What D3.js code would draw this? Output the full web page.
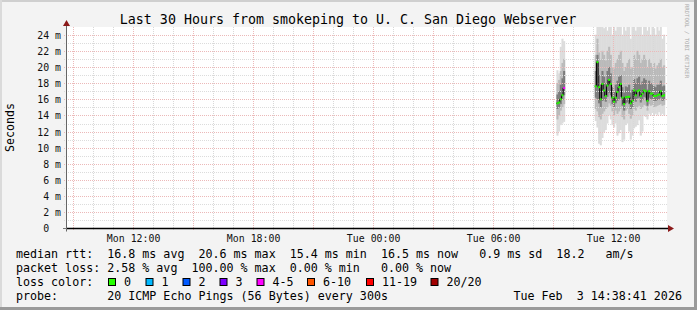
<!DOCTYPE html>
<html><head><meta charset="utf-8">
<script src="https://cdn.jsdelivr.net/npm/d3@7"></script>
<style>html,body{margin:0;padding:0;background:#f3f3f3}svg{display:block}text{white-space:pre}</style>
</head><body><svg id="c" width="697" height="310"></svg>
<script>
const title = "Last 30 Hours from smokeping to U. C. San Diego Webserver";
const yAxisTitle = "Seconds";
const watermark = "RRDTOOL / TOBI OETIKER";
const rangeStart = "2026-02-02 08:38:41";
const rangeEnd = "2026-02-03 14:38:41";
const xTickTimes = ["2026-02-02 12:00:00","2026-02-02 18:00:00","2026-02-03 00:00:00","2026-02-03 06:00:00","2026-02-03 12:00:00"];
const xTickLabels = ["Mon 12:00","Mon 18:00","Tue 00:00","Tue 06:00","Tue 12:00"];
const yTickValues = [0,2,4,6,8,10,12,14,16,18,20,22,24];
const yTickLabels = ["0  "," 2 m"," 4 m"," 6 m"," 8 m","10 m","12 m","14 m","16 m","18 m","20 m","22 m","24 m"];

const times = [
 "2026-02-03 09:10","2026-02-03 09:15","2026-02-03 09:20","2026-02-03 09:25","2026-02-03 09:30",
 "2026-02-03 11:05","2026-02-03 11:10","2026-02-03 11:15","2026-02-03 11:20","2026-02-03 11:25","2026-02-03 11:30",
 "2026-02-03 11:35","2026-02-03 11:40","2026-02-03 11:45","2026-02-03 11:50","2026-02-03 11:55",
 "2026-02-03 12:00","2026-02-03 12:05","2026-02-03 12:10","2026-02-03 12:15","2026-02-03 12:20","2026-02-03 12:25",
 "2026-02-03 12:30","2026-02-03 12:35","2026-02-03 12:40","2026-02-03 12:45","2026-02-03 12:50","2026-02-03 12:55",
 "2026-02-03 13:00","2026-02-03 13:05","2026-02-03 13:10","2026-02-03 13:15","2026-02-03 13:20","2026-02-03 13:25",
 "2026-02-03 13:30","2026-02-03 13:35","2026-02-03 13:40","2026-02-03 13:45","2026-02-03 13:50","2026-02-03 13:55",
 "2026-02-03 14:00","2026-02-03 14:05","2026-02-03 14:10","2026-02-03 14:15","2026-02-03 14:20","2026-02-03 14:25","2026-02-03 14:30"];
const median = [15.5,15.6,16.0,16.5,17.4,
 17.6,20.6,17.5,16.0,17.9,17.1,16.4,17.7,18.4,17.9,16.2,15.7,16.2,16.9,17.5,17.9,16.2,15.4,16.25,16.3,16.3,15.5,15.8,
 17.1,16.5,17.0,17.1,16.4,16.7,17.1,17.0,15.8,17.0,16.7,16.7,16.4,16.4,16.5,16.6,17.0,16.4,16.5];
const lossCount = [0,0,0,0,4,
 0,0,0,0,0,0,0,0,0,0,0,0,0,0,0,0,0,0,0,0,0,0,0,0,0,0,0,0,0,0,0,0,0,0,0,0,0,0,0,0,0,0];
const smokeMin = [11.5,12.0,12.8,13.0,13.2,
 13.3,12.5,10.5,10.3,11.2,11.9,12.2,13.0,14.0,13.5,12.8,12.5,13.0,11.5,11.8,12.2,10.7,11.0,12.8,13.0,12.0,11.0,11.5,
 12.4,12.6,12.8,13.4,11.5,12.0,14.0,13.8,13.5,14.2,14.0,14.3,14.0,14.2,14.0,14.4,14.0,14.2,14.0];
const smokeLo2 = [13.5,14.0,14.6,15.0,15.4,
 14.8,14.5,13.8,13.5,14.2,14.5,14.8,15.0,15.5,15.2,14.5,14.0,14.6,14.2,14.5,14.8,13.8,13.5,14.6,14.8,14.2,13.6,14.0,
 14.8,14.6,15.0,15.2,14.8,15.0,15.3,15.2,14.6,15.4,15.2,15.3,15.0,15.1,15.2,15.3,15.4,15.2,15.3];
const smokeLo3 = [14.8,15.0,15.4,15.9,16.5,
 16.2,16.0,15.5,15.0,15.8,15.9,15.7,16.3,16.8,16.5,15.4,15.0,15.5,15.8,16.0,16.3,15.2,14.6,15.5,15.6,15.4,14.8,15.0,
 16.0,15.7,16.1,16.2,15.6,15.9,16.3,16.2,15.2,16.2,16.0,16.0,15.8,15.8,15.9,16.0,16.2,15.8,15.9];
const smokeHi3 = [16.6,17.0,17.8,18.6,19.5,
 19.5,21.5,19.0,17.8,19.5,18.8,18.0,19.5,20.0,19.2,17.5,17.0,17.8,18.3,18.8,19.0,17.5,16.8,17.6,17.5,17.8,16.8,17.2,
 18.5,18.0,18.6,18.8,17.8,18.2,18.6,18.4,17.2,18.3,18.0,17.8,17.6,17.5,17.8,17.8,18.3,17.6,17.7];
const smokeHi2 = [18.0,18.4,19.5,20.5,21.0,
 21.5,23.5,21.8,21.0,22.0,21.5,20.8,22.0,22.5,21.5,20.0,19.8,20.5,21.0,21.5,22.0,20.5,19.5,20.0,20.5,21.0,19.8,20.0,
 21.5,21.0,22.0,21.5,20.5,21.0,21.5,21.0,20.0,21.0,20.5,20.0,20.5,19.8,20.2,20.5,21.0,20.0,20.2];
const smokeMax = [19.6,19.2,22.5,23.5,23.2,
 24.0,25.5,25.5,25.0,25.5,24.8,25.5,24.5,25.5,25.0,24.0,25.5,24.5,25.5,25.0,25.5,24.0,25.5,24.5,25.5,25.0,23.5,25.5,
 25.5,24.5,25.5,25.0,25.5,24.0,25.5,25.0,24.5,25.5,24.0,25.5,24.8,24.0,25.5,24.5,25.0,23.5,24.0];

const lossClasses = ["0","1","2","3","4-5","6-10","11-19","20/20"];
const lossColors = ["#26ff00","#00b8ff","#0059ff","#7e00ff","#ff00ff","#ff5500","#ff0000","#a10000"];
const lossBoxX = [108,145.5,182.5,219.5,256.5,307,366,430.5];
const legendLines = [
 "median rtt:  16.8 ms avg  20.6 ms max  15.4 ms min  16.5 ms now   0.9 ms sd  18.2   am/s",
 "packet loss: 2.58 % avg  100.00 % max  0.00 % min   0.00 % now",
 "loss color:",
 "probe:       20 ICMP Echo Pings (56 Bytes) every 300s"];
const stampText = "Tue Feb  3 14:38:41 2026";

const W = 697, H = 310;
const L = 66, R = 666, T = 27, B = 228.5;
const mono = "'DejaVu Sans Mono', 'Liberation Mono', monospace";
const svg = d3.select("#c");
const parse = d3.timeParse("%Y-%m-%d %H:%M");
const parseS = d3.timeParse("%Y-%m-%d %H:%M:%S");
const x = d3.scaleTime().domain([parseS(rangeStart), parseS(rangeEnd)]).range([L, R]);
const y = d3.scaleLinear().domain([0, 24.95]).range([B, T]);
const STEP = 5 * 60 * 1000;

// background & border
svg.append("rect").attr("width", W).attr("height", H).attr("fill", "#f3f3f3");
svg.append("rect").attr("x",0).attr("y",0).attr("width",W).attr("height",2).attr("fill","#cfcfcf");
svg.append("rect").attr("x",0).attr("y",0).attr("width",2).attr("height",H).attr("fill","#dadada");
svg.append("rect").attr("x",W-3).attr("y",0).attr("width",3).attr("height",H).attr("fill","#9a9a9a");
svg.append("rect").attr("x",0).attr("y",H-3).attr("width",W).attr("height",3).attr("fill","#9a9a9a");

// plot area
svg.append("rect").attr("x", L).attr("y", T).attr("width", R - L + 1).attr("height", B - T).attr("fill", "#ffffff");
svg.append("clipPath").attr("id","clip").append("rect").attr("x", L).attr("y", T).attr("width", R - L + 1).attr("height", B - T);

const data = times.map((t, i) => ({
  t: parse(t), med: median[i], loss: lossCount[i],
  bands: [[smokeMin[i], smokeMax[i]], [smokeLo2[i], smokeHi2[i]], [smokeLo3[i], smokeHi3[i]]]
}));
const bandColors = ["#dcdcdc", "#bababa", "#7c7c7c"];
const smoke = svg.append("g").attr("clip-path", "url(#clip)");
[0,1,2].forEach(b => {
  smoke.selectAll(null).data(data).enter().append("rect")
    .attr("x", d => x(d.t))
    .attr("width", d => x(new Date(+d.t + STEP)) - x(d.t) + 0.4)
    .attr("y", d => y(d.bands[b][1]))
    .attr("height", d => y(d.bands[b][0]) - y(d.bands[b][1]))
    .attr("fill", bandColors[b]);
});

// grid
const grid = svg.append("g");
const hours = d3.timeHour.range(x.domain()[0], x.domain()[1]);
hours.forEach(h => {
  const major = h.getHours() % 3 === 0;
  const px = Math.round(x(h)) + 0.5;
  grid.append("line").attr("x1", px).attr("x2", px).attr("y1", T).attr("y2", B + 2.5)
    .attr("stroke", major ? "#ecb9b9" : "#d8d8d8").attr("stroke-dasharray", "1,1");
});
y.ticks(25).filter(v => v > 0).forEach(v => {
  const major = v % 2 === 0;
  const py = Math.round(y(v)) + 0.5;
  grid.append("line").attr("x1", L - 2).attr("x2", R + 1).attr("y1", py).attr("y2", py)
    .attr("stroke", major ? "#ecb9b9" : "#dcdcdc").attr("stroke-dasharray", "1,1");
});

// median line (step) per contiguous segment
const segs = [];
data.forEach((d, i) => {
  if (i === 0 || +d.t - +data[i-1].t > STEP) segs.push([]);
  segs[segs.length-1].push(d);
});
const line = d3.line().x(d => x(d.t)).y(d => y(d.med)).curve(d3.curveStepAfter);
segs.forEach(s => {
  const pts = s.concat([{ t: new Date(+s[s.length-1].t + STEP), med: s[s.length-1].med }]);
  svg.append("path").attr("d", line(pts)).attr("fill", "none").attr("stroke", "#000").attr("stroke-width", 1);
});
function lossIdx(n){ return n===0?0:n===1?1:n===2?2:n===3?3:n<=5?4:n<=10?5:n<=19?6:7; }
svg.selectAll(null).data(data).enter().append("rect")
  .attr("x", d => x(d.t)).attr("width", 2)
  .attr("y", d => y(d.med) - 1).attr("height", 2)
  .attr("fill", d => lossColors[lossIdx(d.loss)]);

// axes lines
svg.append("line").attr("x1", L + 0.5).attr("x2", L + 0.5).attr("y1", B + 3).attr("y2", T - 3).attr("stroke", "#666");
svg.append("line").attr("x1", L - 3).attr("x2", R + 3).attr("y1", B).attr("y2", B).attr("stroke", "#777");
svg.append("line").attr("x1", L + 1).attr("x2", R + 2).attr("y1", B).attr("y2", B).attr("stroke", "#000").attr("stroke-width", 1.6);
svg.append("path").attr("d", `M${L-3},${T-1} L${L+0.5},${T-7} L${L+4},${T-1} Z`).attr("fill", "#8b1a1a");
svg.append("path").attr("d", `M${R+2},${B-3.5} L${R+8},${B} L${R+2},${B+3.5} Z`).attr("fill", "#8b1a1a");

// x axis labels
const xAxis = d3.axisBottom(x).tickValues(xTickTimes.map(s => parseS(s)))
  .tickFormat((d, i) => xTickLabels[i]).tickSize(0).tickPadding(0);
const gx = svg.append("g").attr("transform", `translate(0,${B})`).call(xAxis);
gx.select(".domain").remove();
gx.selectAll("text").attr("y", 13).attr("dy", 0).attr("font-family", mono).attr("font-size", "9.9px").attr("fill", "#111");

// y axis labels
const yAxis = d3.axisLeft(y).tickValues(yTickValues).tickFormat((d, i) => yTickLabels[i]).tickSize(0).tickPadding(0);
const gy = svg.append("g").attr("transform", `translate(${L - 5},0)`).call(yAxis);
gy.select(".domain").remove();
gy.selectAll("text").attr("dy", "0.35em").attr("font-family", mono).attr("font-size", "9.9px").attr("fill", "#111")
  .style("white-space", "pre");

// titles
svg.append("text").attr("x", 348).attr("y", 23.5).attr("text-anchor", "middle")
  .attr("font-family", mono).attr("font-size", "13.3px").attr("fill", "#000").text(title);
svg.append("text").attr("transform", "translate(14,127.5) rotate(-90)").attr("text-anchor", "middle")
  .attr("font-family", mono).attr("font-size", "11.6px").attr("fill", "#000").text(yAxisTitle);
svg.append("text").attr("transform", "translate(685,4) rotate(90)").attr("text-anchor", "start")
  .attr("font-family", mono).attr("font-size", "5.6px").attr("fill", "#a8a8a8").text(watermark);

// legend
const legendY = [258, 272, 286, 300];
legendLines.forEach((s, i) => {
  svg.append("text").attr("x", 16).attr("y", legendY[i]).attr("font-family", mono).attr("font-size", "11.66px")
    .attr("fill", "#000").style("white-space", "pre").text(s);
});
lossClasses.forEach((c, i) => {
  svg.append("rect").attr("x", lossBoxX[i] + 0.5).attr("y", 278.5).attr("width", 7).attr("height", 7)
    .attr("fill", lossColors[i]).attr("stroke", "#000").attr("stroke-width", 1);
  svg.append("text").attr("x", lossBoxX[i] + 16).attr("y", legendY[2]).attr("font-family", mono)
    .attr("font-size", "11.66px").attr("fill", "#000").text(c);
});
svg.append("text").attr("x", 513.5).attr("y", legendY[3]).attr("font-family", mono).attr("font-size", "11.66px")
  .attr("fill", "#000").style("white-space", "pre").text(stampText);
</script></body></html>
